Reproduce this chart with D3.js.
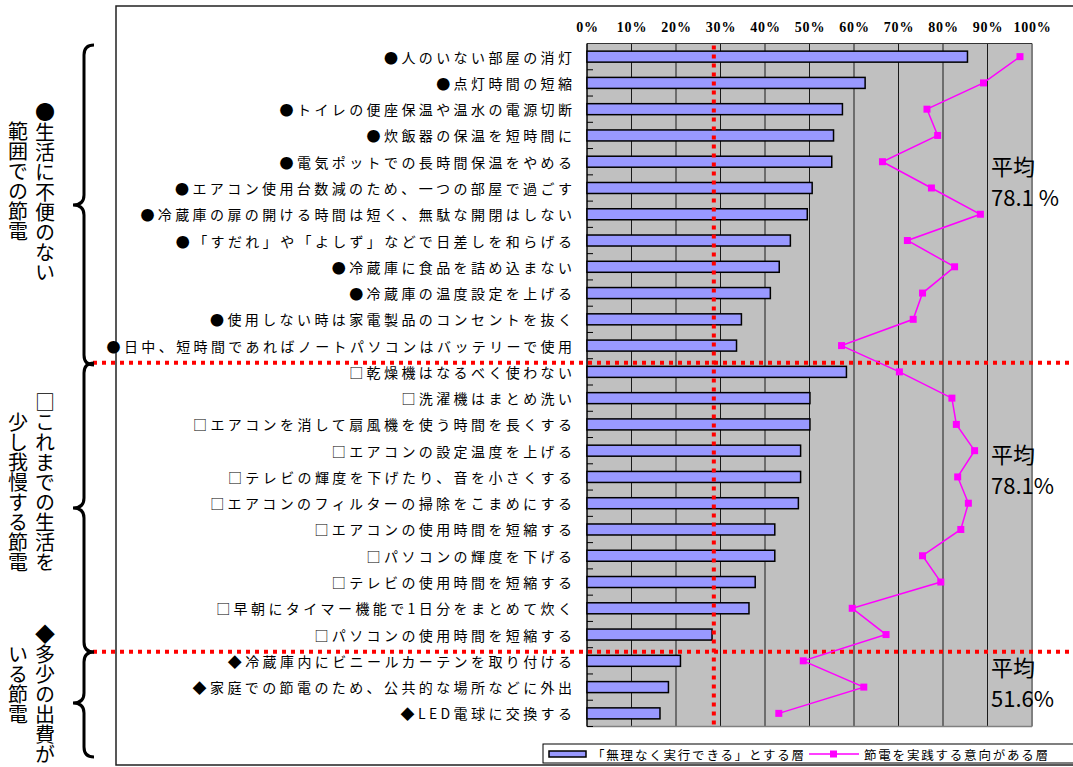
<!DOCTYPE html>
<html><head><meta charset="utf-8">
<script src="https://cdn.jsdelivr.net/npm/d3@7"></script>
<style>body{margin:0;background:#fff;}svg{display:block;}</style>
</head><body>
<svg id="chart" width="1073" height="767"></svg>
<script>
const categories = [
"●人のいない部屋の消灯","●点灯時間の短縮","●トイレの便座保温や温水の電源切断","●炊飯器の保温を短時間に",
"●電気ポットでの長時間保温をやめる","●エアコン使用台数減のため、一つの部屋で過ごす",
"●冷蔵庫の扉の開ける時間は短く、無駄な開閉はしない","●「すだれ」や「よしず」などで日差しを和らげる",
"●冷蔵庫に食品を詰め込まない","●冷蔵庫の温度設定を上げる","●使用しない時は家電製品のコンセントを抜く",
"●日中、短時間であればノートパソコンはバッテリーで使用",
"□乾燥機はなるべく使わない","□洗濯機はまとめ洗い","□エアコンを消して扇風機を使う時間を長くする",
"□エアコンの設定温度を上げる","□テレビの輝度を下げたり、音を小さくする","□エアコンのフィルターの掃除をこまめにする",
"□エアコンの使用時間を短縮する","□パソコンの輝度を下げる","□テレビの使用時間を短縮する",
"□早朝にタイマー機能で1日分をまとめて炊く","□パソコンの使用時間を短縮する",
"◆冷蔵庫内にビニールカーテンを取り付ける","◆家庭での節電のため、公共的な場所などに外出","◆LED電球に交換する"];
const barValues = [85.5,62.5,57.4,55.4,55.0,50.6,49.5,45.7,43.2,41.2,34.7,33.6,
  58.3,50.1,50.1,48.0,48.0,47.5,42.2,42.2,37.8,36.4,28.1,
  21.0,18.3,16.4];
const lineValues = [97.3,89.1,76.4,78.8,66.4,77.4,88.4,72.0,82.6,75.4,73.3,57.2,
  70.2,82.0,83.0,87.1,83.3,85.7,84.0,75.4,79.5,59.6,67.2,
  48.6,62.2,43.1];
const tickValues = [0,10,20,30,40,50,60,70,80,90,100];
const tickLabels = ["0%","10%","20%","30%","40%","50%","60%","70%","80%","90%","100%"];
const seriesNames = ["「無理なく実行できる」とする層","節電を実践する意向がある層"];
const groupStarts = [0,12,23];
const groupCol1 = ["●生活に不便のない","□これまでの生活を","◆多少の出費が"];
const groupCol2 = ["範囲での節電","少し我慢する節電","いる節電"];
const groupAvgLabels = ["78.1 %","78.1%","51.6%"];
const referenceValue = 28.5;

const svg = d3.select("#chart");
const JP = "'Noto Sans CJK JP','Noto Sans',sans-serif";
const x = d3.scaleLinear().domain([0,100]).range([587,1032]);
const y = d3.scaleBand().domain(categories).range([43.5,726.5]).padding(0);
const bw = y.step();
const yIdx = i => y.range()[0] + i*bw;
const cy = d => y(d) + bw/2;

// outer frame
svg.append("path").attr("d","M1073,6 L116,6 L116,765 L1073,765")
  .attr("fill","none").attr("stroke","#222").attr("stroke-width",1.5);

// plot background
svg.append("rect").attr("x",x(0)).attr("y",y.range()[0]).attr("width",x(100)-x(0))
  .attr("height",y.range()[1]-y.range()[0]).attr("fill","#c0c0c0");
svg.append("g").selectAll("line").data(tickValues.filter(v=>v>0)).join("line")
  .attr("x1",d=>x(d)).attr("x2",d=>x(d)).attr("y1",y.range()[0]).attr("y2",y.range()[1])
  .attr("stroke",d=>d===100?"#808080":"#1a1a1a").attr("stroke-width",d=>d===100?2:1);
svg.append("line").attr("x1",x(0)).attr("x2",x(100)).attr("y1",y.range()[0]).attr("y2",y.range()[0])
  .attr("stroke","#333").attr("stroke-width",1.2);
svg.append("line").attr("x1",x(0)).attr("x2",x(100)).attr("y1",y.range()[1]).attr("y2",y.range()[1])
  .attr("stroke","#808080").attr("stroke-width",1.5);
svg.append("line").attr("x1",x(0)).attr("x2",x(0)).attr("y1",y.range()[0]).attr("y2",y.range()[1])
  .attr("stroke","#000").attr("stroke-width",1.5);
svg.append("g").selectAll("line").data(d3.range(1,categories.length+1)).join("line")
  .attr("x1",x(0)).attr("x2",x(0)+6).attr("y1",d=>yIdx(d)).attr("y2",d=>yIdx(d))
  .attr("stroke","#000").attr("stroke-width",1);

// top axis labels
const axisG = svg.append("g").attr("transform","translate(0,27)")
  .call(d3.axisTop(x).tickValues(tickValues).tickFormat((d,i)=>tickLabels[i]).tickSize(0).tickPadding(0));
axisG.select(".domain").remove();
axisG.selectAll("text").attr("y",0).attr("dy","0.35em")
  .attr("font-family","'Liberation Serif','DejaVu Serif',serif").attr("font-weight","bold")
  .attr("font-size",14).attr("letter-spacing",0.8).attr("fill","#000");

// category labels
const LS = 3.4;
svg.append("g").selectAll("text").data(categories).join("text")
  .attr("x",572+LS).attr("y",d=>cy(d)).attr("text-anchor","end").attr("dominant-baseline","central")
  .attr("font-family",JP).attr("font-size",14).attr("letter-spacing",LS).attr("fill","#000").text(d=>d);

// bars
const barH = 11;
svg.append("g").selectAll("rect").data(categories).join("rect")
  .attr("x",x(0)).attr("y",d=>cy(d)-barH/2)
  .attr("width",(d,i)=>x(barValues[i])-x(0)).attr("height",barH)
  .attr("fill","#9999ff").attr("stroke","#000").attr("stroke-width",1.5);

// red reference lines
svg.append("line").attr("x1",x(referenceValue)).attr("x2",x(referenceValue))
  .attr("y1",y.range()[0]+2).attr("y2",y.range()[1])
  .attr("stroke","#ff0000").attr("stroke-width",4).attr("stroke-dasharray","4,5");
svg.append("g").selectAll("line").data(groupStarts.slice(1)).join("line")
  .attr("x1",93).attr("x2",1073).attr("y1",d=>yIdx(d)+4).attr("y2",d=>yIdx(d)+4)
  .attr("stroke","#ff0000").attr("stroke-width",4).attr("stroke-dasharray","4,5");

// magenta line series
const line = d3.line().x(d=>x(d)).y((d,i)=>cy(categories[i]));
svg.append("path").datum(lineValues).attr("d",line)
  .attr("fill","none").attr("stroke","#ff00ff").attr("stroke-width",1.5);
svg.append("g").selectAll("rect").data(lineValues).join("rect")
  .attr("x",d=>x(d)-3.5).attr("y",(d,i)=>cy(categories[i])-3.5).attr("width",7).attr("height",7)
  .attr("fill","#ff00ff");

// averages
const avgRowPos = [4.62,15.59,23.69];
groupAvgLabels.forEach((lab,i)=>{
  const yy = yIdx(avgRowPos[i]);
  svg.append("text").attr("x",991).attr("y",yy).attr("dominant-baseline","central")
    .attr("font-family",JP).attr("font-size",22).attr("fill","#000").text("平均");
  svg.append("text").attr("x",991).attr("y",yy+31).attr("dominant-baseline","central")
    .attr("font-family",JP).attr("font-size",22).attr("fill","#000").text(lab);
});

// braces and vertical group titles
const braceTops = [45,363,652], braceBottoms = [365,652,757], braceTips = [205,508,703];
const col1Start = [102,392,624], col2Start = [121,412,644];
groupCol1.forEach((t,i)=>{
  const y0 = braceTops[i], y1 = braceBottoms[i], ym = braceTips[i];
  const xr = 94, xv = 84, xt = 73, r = 10;
  const p = `M${xr},${y0} Q${xv},${y0} ${xv},${y0+r} L${xv},${ym-r} Q${xv},${ym} ${xt},${ym} Q${xv},${ym} ${xv},${ym+r} L${xv},${y1-r} Q${xv},${y1} ${xr},${y1}`;
  svg.append("path").attr("d",p).attr("fill","none").attr("stroke","#000").attr("stroke-width",3);
  svg.append("text").attr("x",45).attr("y",col1Start[i]).attr("writing-mode","vertical-rl")
    .style("text-orientation","upright").attr("font-family",JP).attr("font-size",20).attr("fill","#000").text(t);
  svg.append("text").attr("x",18).attr("y",col2Start[i]).attr("writing-mode","vertical-rl")
    .style("text-orientation","upright").attr("font-family",JP).attr("font-size",20).attr("fill","#000").text(groupCol2[i]);
});

// legend
const lg = svg.append("g");
lg.append("rect").attr("x",543).attr("y",744).attr("width",560).attr("height",19)
  .attr("fill","#fff").attr("stroke","#000").attr("stroke-width",1);
lg.append("rect").attr("x",549).attr("y",751).attr("width",37).attr("height",6)
  .attr("fill","#9999ff").attr("stroke","#000").attr("stroke-width",1.5);
lg.append("text").attr("x",592).attr("y",754).attr("dominant-baseline","central")
  .attr("font-family",JP).attr("font-size",12.5).attr("letter-spacing",1.8).attr("fill","#000").text(seriesNames[0]);
lg.append("line").attr("x1",809).attr("x2",859).attr("y1",754).attr("y2",754)
  .attr("stroke","#ff00ff").attr("stroke-width",1.5);
lg.append("rect").attr("x",830).attr("y",750.5).attr("width",7).attr("height",7).attr("fill","#ff00ff");
lg.append("text").attr("x",864).attr("y",754).attr("dominant-baseline","central")
  .attr("font-family",JP).attr("font-size",12.5).attr("letter-spacing",1.8).attr("fill","#000").text(seriesNames[1]);
</script>
</body></html>
